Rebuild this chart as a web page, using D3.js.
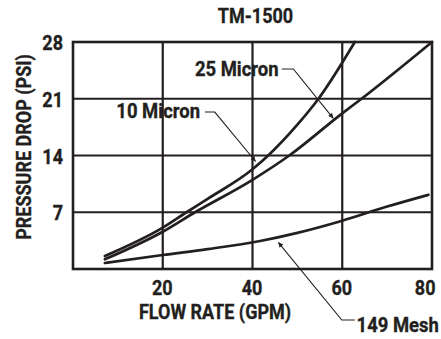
<!DOCTYPE html>
<html>
<head>
<meta charset="utf-8">
<script src="https://cdn.jsdelivr.net/npm/d3@7"></script>
<style>
  html, body { margin: 0; padding: 0; background: #ffffff; }
  svg { display: block; }
  text { font-family: Roboto, "Liberation Sans", sans-serif; font-weight: 700; fill: #231f20; stroke: #231f20; stroke-width: 0.35px; }
</style>
</head>
<body>
<svg id="chart" width="441" height="339"></svg>
<script>
// ---- data ----
const chartTitle = "TM-1500";
const xTitle = "FLOW RATE (GPM)";
const yTitle = "PRESSURE DROP (PSI)";
const xTicks = [20, 40, 60, 80];
const yTicks = [7, 14, 21, 28];

const flow10 = [7.1, 20, 25.3, 30, 40, 43.5, 50, 54.7, 62.8];
const psi10  = [1.6, 5.1, 7.0, 8.65, 12.3, 14.0, 17.8, 21.0, 28.0];

const flow25 = [7.1, 20, 27.2, 40, 48.2, 60, 64.3, 80];
const psi25  = [1.2, 4.6, 7.0, 11.0, 14.0, 19.2, 21.0, 28.0];

const flowMesh = [7.1, 20, 30, 41.7, 50, 60, 70, 79.2];
const psiMesh  = [0.74, 1.73, 2.45, 3.45, 4.45, 5.95, 7.7, 9.15];

const seriesNames = ["10 Micron", "25 Micron", "149 Mesh"];
// annotation anchors in data units: label anchor, leader path, arrow tip last
const labelAnchors = [[28.3, 18.59], [45.8, 23.84], [63.2, -7.73]];
const labelAnchorSide = ["end", "end", "start"];
const leaderPaths = [
  [[29.4, 19.36], [31.6, 19.36], [40.7, 13.26]],
  [[46.5, 24.67], [49.1, 24.67], [58.0, 18.59]],
  [[62.8, -6.29], [59.9, -6.29], [45.75, 3.29]]
];

// ---- layout ----
const ink = "#231f20";
const FS = 20, SX = 0.9;   // condensed look: font size and horizontal squeeze
const margin = { left: 73, right: 9, top: 42, bottom: 70 };
const W = 441, H = 339;
const x = d3.scaleLinear().domain([0, 80]).range([margin.left, W - margin.right]);
const y = d3.scaleLinear().domain([0, 28]).range([H - margin.bottom, margin.top]);

const svg = d3.select("#chart");

svg.append("defs").append("marker")
  .attr("id", "arrow")
  .attr("viewBox", "0 0 10 10")
  .attr("refX", 10).attr("refY", 5)
  .attr("markerWidth", 7).attr("markerHeight", 5)
  .attr("markerUnits", "userSpaceOnUse")
  .attr("orient", "auto")
  .append("path").attr("d", "M0,0 L10,5 L0,10 Z").attr("fill", ink);

// grid
const grid = svg.append("g");
grid.selectAll("line.v").data(xTicks.filter(d => d < 80)).join("line")
  .attr("x1", d => x(d)).attr("x2", d => x(d))
  .attr("y1", y(0)).attr("y2", y(28))
  .attr("stroke", ink).attr("stroke-width", 2.2);
grid.selectAll("line.h").data(yTicks.filter(d => d < 28)).join("line")
  .attr("x1", x(0)).attr("x2", x(80))
  .attr("y1", d => y(d)).attr("y2", d => y(d))
  .attr("stroke", ink).attr("stroke-width", 2.2);

// frame
svg.append("rect")
  .attr("x", x(0)).attr("y", y(28))
  .attr("width", x(80) - x(0)).attr("height", y(0) - y(28))
  .attr("fill", "none").attr("stroke", ink).attr("stroke-width", 2.6);

// axes (labels only)
const xAxis = svg.append("g")
  .attr("transform", `translate(0,${y(0)})`)
  .call(d3.axisBottom(x).tickValues(xTicks).tickSize(0).tickPadding(12).tickFormat(d3.format("d")));
xAxis.select(".domain").remove();
xAxis.selectAll("text")
  .attr("font-size", FS)
  .attr("font-family", "Roboto, sans-serif")
  .attr("font-weight", 700)
  .attr("fill", ink)
  .attr("transform", `scale(${SX},1)`)
  .attr("text-anchor", d => d === 80 ? "end" : "middle")
  .attr("dx", d => (d === 80 ? 3 : -1) / SX);

const yAxis = svg.append("g")
  .attr("transform", `translate(${x(0)},0)`)
  .call(d3.axisLeft(y).tickValues(yTicks).tickSize(0).tickPadding(10).tickFormat(d3.format("d")));
yAxis.select(".domain").remove();
yAxis.selectAll("text")
  .attr("font-size", FS)
  .attr("font-family", "Roboto, sans-serif")
  .attr("font-weight", 700)
  .attr("fill", ink)
  .attr("transform", `scale(${SX},1)`)
  .attr("x", -10 / SX)
  .attr("dy", "0.38em");

// curves
const line = d3.line().x(d => x(d[0])).y(d => y(d[1])).curve(d3.curveMonotoneX);
const series = [
  d3.zip(flow10, psi10),
  d3.zip(flow25, psi25),
  d3.zip(flowMesh, psiMesh)
];
svg.append("g").selectAll("path").data(series).join("path")
  .attr("d", line)
  .attr("fill", "none")
  .attr("stroke", ink)
  .attr("stroke-width", 2.7)
  .attr("stroke-linejoin", "round")
  .attr("stroke-linecap", "round");

// leaders
const leaderLine = d3.line().x(d => x(d[0])).y(d => y(d[1]));
svg.append("g").selectAll("path").data(leaderPaths).join("path")
  .attr("d", leaderLine)
  .attr("fill", "none")
  .attr("stroke", ink)
  .attr("stroke-width", 1.1)
  .attr("marker-end", "url(#arrow)");

// labels
svg.append("g").selectAll("text").data(seriesNames).join("text")
  .attr("transform", (d, i) => `translate(${x(labelAnchors[i][0])},${y(labelAnchors[i][1])}) scale(${SX},1)`)
  .attr("text-anchor", (d, i) => labelAnchorSide[i])
  .attr("font-size", FS + 0.5)
  .text(d => d);

// titles
svg.append("text")
  .attr("transform", `translate(${(x(0) + x(80)) / 2 + 3},23) scale(${SX},1)`)
  .attr("text-anchor", "middle")
  .attr("font-size", FS)
  .text(chartTitle);

svg.append("text")
  .attr("transform", `translate(215,319) scale(${SX},1)`)
  .attr("text-anchor", "middle")
  .attr("font-size", FS)
  .text(xTitle);

svg.append("text")
  .attr("transform", `translate(31,147) rotate(-90) scale(${SX},1)`)
  .attr("text-anchor", "middle")
  .attr("font-size", FS)
  .text(yTitle);
</script>
</body>
</html>
